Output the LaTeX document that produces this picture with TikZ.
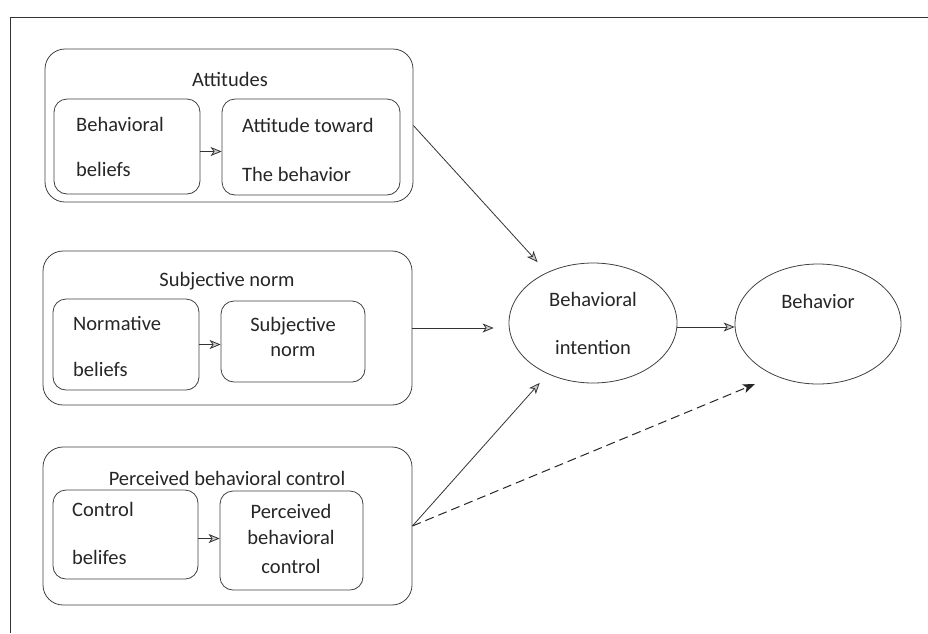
\documentclass[tikz,border=0pt]{standalone}
\usepackage{fontspec}
\setmainfont{Carlito}
\usetikzlibrary{arrows.meta,shapes.geometric}

\tikzset{
  lbl/.style={inner sep=0pt, font=\fontsize{20.5}{24}\selectfont, text=black!85},
  outbox/.style={draw=black!75, line width=0.8pt, rounded corners=20pt, inner sep=0pt},
  inbox/.style={draw=black!75, line width=0.8pt, rounded corners=13pt, inner sep=0pt},
  oval/.style={ellipse, draw=black!75, line width=0.8pt, inner sep=0pt},
  arr/.style={draw=black!80, line width=0.8pt,
    -{Stealth[length=11pt, width=9pt, inset=3pt, fill=gray!40]}},
  dasharr/.style={draw=black!85, line width=1pt, dash pattern=on 9pt off 5pt,
    -{Stealth[length=12pt, width=9pt, inset=3pt]}},
  frame/.style={draw=black!80, line width=0.8pt}
}

\begin{document}
\begin{tikzpicture}[x=1pt, y=-1pt]
\useasboundingbox (0,0) rectangle (928,633);

% page frame (top and left edges)
\draw[frame] (10,633) -- (10,17) -- (928,17);

% ---------- Attitudes ----------
\node[outbox, minimum width=368pt, minimum height=153pt] (att) at (229,125.5) {};
\node[lbl, anchor=base] (attT) at (230,86) {Attitudes};
\node[inbox, minimum width=146pt, minimum height=95pt] (ab) at (127,146.5) {};
\node[lbl, anchor=base west] (ab1) at (76,131.5) {Behavioral};
\node[lbl, anchor=base west] (ab2) at (76,176.5) {beliefs};
\node[inbox, minimum width=178pt, minimum height=96pt] (atb) at (311,147) {};
\node[lbl, anchor=base west] (atb1) at (242,132) {Attitude toward};
\node[lbl, anchor=base west] (atb2) at (242,181.5) {The behavior};
\draw[arr] ([yshift=-5pt]ab.east) -- ([yshift=-5pt]ab.east -| atb.west);

% ---------- Subjective norm ----------
\node[outbox, minimum width=369pt, minimum height=154pt] (sn) at (227.5,328) {};
\node[lbl, anchor=base] (snT) at (227,286) {Subjective norm};
\node[inbox, minimum width=146pt, minimum height=91pt] (nb) at (126,344.5) {};
\node[lbl, anchor=base west] (nb1) at (73,330) {Normative};
\node[lbl, anchor=base west] (nb2) at (73,376.5) {beliefs};
\node[inbox, minimum width=144pt, minimum height=81pt] (snr) at (293,341.5) {};
\node[lbl, anchor=base] (snr1) at (293,331.5) {Subjective};
\node[lbl, anchor=base] (snr2) at (293,356.5) {norm};
\draw[arr] (nb.east) -- (nb.east -| snr.west);

% ---------- Perceived behavioral control ----------
\node[outbox, minimum width=369pt, minimum height=158pt] (pbc) at (227.5,526) {};
\node[lbl, anchor=base] (pbcT) at (227,485) {Perceived behavioral control};
\node[inbox, minimum width=145pt, minimum height=89pt] (cb) at (125.5,534.5) {};
\node[lbl, anchor=base west] (cb1) at (72,516) {Control};
\node[lbl, anchor=base west] (cb2) at (72,564) {belifes};
\node[inbox, minimum width=143pt, minimum height=99pt] (pbr) at (291.5,540.5) {};
\node[lbl, anchor=base] (pbr1) at (291,518) {Perceived};
\node[lbl, anchor=base] (pbr2) at (291,544) {behavioral};
\node[lbl, anchor=base] (pbr3) at (291,573) {control};
\draw[arr] ([yshift=-4pt]cb.east) -- ([yshift=-4pt]cb.east -| pbr.west);

% ---------- Intention and behavior ----------
\node[oval, minimum width=168pt, minimum height=120pt] (bi) at (593,323) {};
\node[lbl, anchor=base] (bi1) at (593,306) {Behavioral};
\node[lbl, anchor=base] (bi2) at (593,354) {intention};
\node[oval, minimum width=166pt, minimum height=120pt] (bh) at (818,324) {};
\node[lbl, anchor=base] (bh1) at (818,308) {Behavior};
\coordinate (dashend) at (755,384);

% ---------- connectors ----------
\draw[arr, shorten >=14pt] (att.east) -- (bi);
\draw[arr, shorten >=15pt] (sn.east) -- (sn.east -| bi.west);
\draw[arr, shorten >=12pt] (pbc.east) -- (bi);
\draw[arr] ([yshift=-4pt]bi.east) -- ([yshift=-4pt]bi.east -| bh.west);
\draw[dasharr] (pbc.east) -- (dashend);
\end{tikzpicture}
\end{document}
